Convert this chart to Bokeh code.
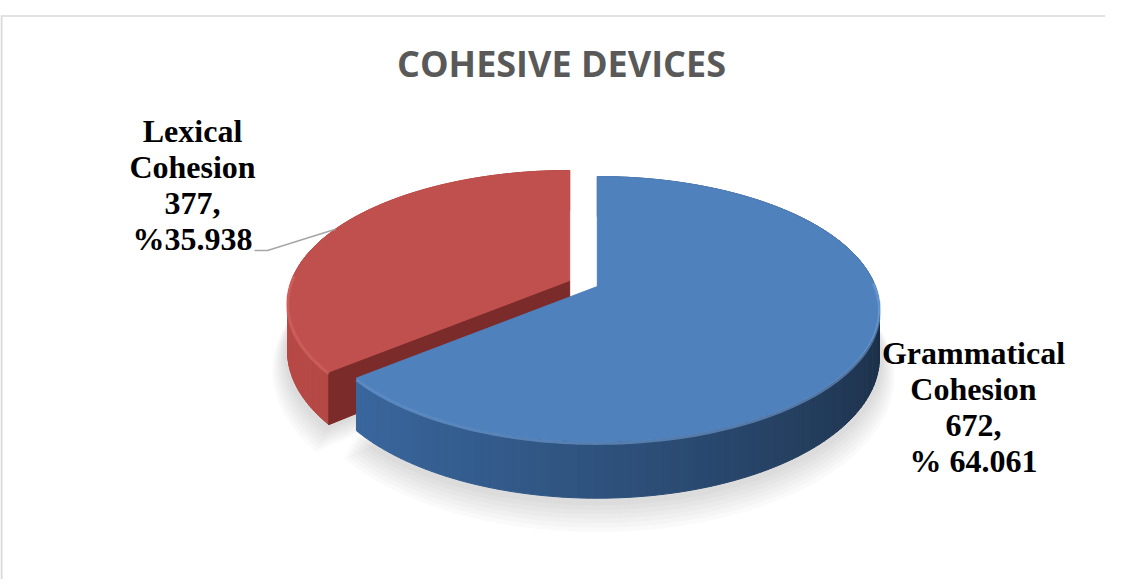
import numpy as np
from bokeh.plotting import figure
from bokeh.models import Range1d
from bokeh.core.properties import value
from bokeh.embed import file_html
from bokeh.resources import INLINE

# ---------------- data ----------------
title_text = "COHESIVE DEVICES"
categories = ["Grammatical\nCohesion", "Lexical\nCohesion"]
counts = [672, 377]
percents = [64.061, 35.938]
pct_prefix = ["% ", "%"]

# ---------------- style ----------------
top_colors = ["#4F81BD", "#C0504D"]
side_left = ["#3C6CA6", "#B84A47"]
side_right = ["#1C2F47", "#8A3331"]
face_colors = ["#2A4A70", "#7B2B29"]
rim_colors = ["#79A6DC", "#DB6B67"]
label_anchor = [(981, 334), (200, 112)]   # centre-x, top-y of each label block
leader_pts = [(275, 250), (262, 250)]      # elbow and end of the Lexical leader line

W, H = 1105, 579
CX, CY = 591.0, 283.0
RX, RY = 278.0, 128.7
PERSP = 0.17
DEPTH = 47.0
EXPLODE = 0.055


def hex2rgb(h):
    h = h.lstrip("#")
    return np.array([int(h[i:i + 2], 16) for i in (0, 2, 4)], dtype=float)


def mix(c1, c2, t):
    c = hex2rgb(c1) * (1 - t) + hex2rgb(c2) * t
    return "#%02x%02x%02x" % tuple(int(round(v)) for v in c)


def proj(theta_deg, ox, oy, drop=0.0, rx=RX, ry=RY):
    t = np.radians(theta_deg)
    s = 1.0 / (1.0 + PERSP * np.sin(t))
    x = ox + rx * np.cos(t) * s
    y = oy - ry * np.sin(t) * s + drop * s
    return x, y


p = figure(width=W, height=H, output_backend="svg", toolbar_location=None,
           x_range=Range1d(8, 8 + W), y_range=Range1d(H, 0),
           x_axis_location=None, y_axis_location=None,
           min_border=0, min_border_left=0, min_border_right=0,
           min_border_top=0, min_border_bottom=0)
p.outline_line_color = None
p.xgrid.visible = False
p.ygrid.visible = False
p.background_fill_color = "white"
p.border_fill_color = "white"

# chart-area border (top and left visible)
p.line([9, 9], [16, 700], line_color="#d9d9d9", line_width=2)
p.line([8, 1200], [15.5, 15.5], line_color="#d9d9d9", line_width=1.5)

# slices clockwise from 12 o'clock
total = float(sum(counts))
slices = []
cur = 90.0
for c in counts:
    a1 = cur
    a0 = cur - 360.0 * c / total
    slices.append((a0, a1))
    cur = a0

offsets = []
for a0, a1 in slices:
    b = np.radians((a0 + a1) / 2)
    offsets.append((CX + EXPLODE * RX * np.cos(b), CY - EXPLODE * RY * np.sin(b)))

# soft shadow beneath the pie
for k in range(7):
    for (a0, a1), (ox, oy) in zip(slices, offsets):
        th = np.linspace(a0, a1, 200)
        xs, ys = proj(th, ox, oy, DEPTH + 4 + 2.2 * k, RX + 3 + 2 * k, RY + 2 + 1.5 * k)
        bx, by = ox, oy + DEPTH + 4 + 2.2 * k
        p.patch(np.r_[bx, xs], np.r_[by, ys], fill_color="#000000",
                fill_alpha=0.02, line_color=None)

# draw back slice (Lexical) first, then Grammatical in front
order = [1, 0]
for i in order:
    a0, a1 = slices[i]
    ox, oy = offsets[i]
    # outer curved side, with horizontal shading
    th = np.linspace(a0, a1, 161)
    qx, qy, qc = [], [], []
    for j in range(len(th) - 1):
        t0, t1 = th[j], th[j + 1]
        x0, y0 = proj(t0, ox, oy)
        x1, y1 = proj(t1, ox, oy)
        x2, y2 = proj(t1, ox, oy, DEPTH)
        x3, y3 = proj(t0, ox, oy, DEPTH)
        qx.append([x0, x1, x2, x3])
        qy.append([y0, y1, y2, y3])
        tm = (1 - np.cos(np.radians((t0 + t1) / 2))) / 2  # 1 at left, 0 at right
        qc.append(mix(side_right[i], side_left[i], tm ** 0.8))
    p.patches(qx, qy, fill_color=qc, line_color=qc, line_width=1)

    # radial cut faces turned toward the viewer
    for ang, nrm in ((a0, a0 - 90), (a1, a1 + 90)):
        if np.sin(np.radians(nrm)) < -0.05:
            rx_, ry_ = proj(ang, ox, oy)
            rbx, rby = proj(ang, ox, oy, DEPTH)
            p.patch([ox, rx_, rbx, ox], [oy, ry_, rby, oy + DEPTH],
                    fill_color=face_colors[i], line_color=face_colors[i], line_width=1)

    # top surface
    tx, ty = proj(th, ox, oy)
    p.patch(np.r_[ox, tx], np.r_[oy, ty], fill_color=top_colors[i],
            line_color=top_colors[i], line_width=1)

    # bevel highlight along the front rim
    front = th[np.sin(np.radians(th)) < 0.05]
    if len(front) > 1:
        fx, fy = proj(front, ox, oy, 1.5)
        p.line(fx, fy, line_color=rim_colors[i], line_width=3, line_alpha=0.55)

# leader line for the Lexical label (attached at slice bisector on the rim)
a0, a1 = slices[1]
lx, ly = proj((a0 + a1) / 2, *offsets[1])
p.line([lx, leader_pts[0][0], leader_pts[1][0]], [ly, leader_pts[0][1], leader_pts[1][1]],
       line_color="#a6a6a6", line_width=1.5)

# data labels
label_texts = [f"{cat}\n{cnt},\n{pre}{pct:.3f}" for cat, cnt, pre, pct in
               zip(categories, counts, pct_prefix, percents)]
p.text(x=[a[0] for a in label_anchor], y=[a[1] for a in label_anchor], text=label_texts,
       text_font=value("Liberation Serif"), text_font_style="bold",
       text_font_size="32px", text_color="#000000", text_align="center",
       text_baseline="top", text_line_height=1.0)

# title
p.text(x=[569], y=[63], text=[title_text], text_font=value("Open Sans"),
       text_font_style="bold", text_font_size="36px", text_color="#595959",
       text_align="center", text_baseline="middle")

open("out.html", "w").write(file_html(p, INLINE))
